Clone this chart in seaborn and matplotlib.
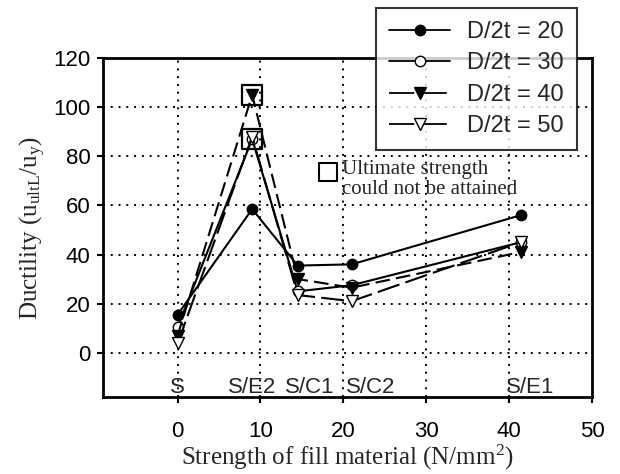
import matplotlib
matplotlib.use("Agg")
import matplotlib.pyplot as plt
import seaborn as sns
import pandas as pd
from matplotlib.lines import Line2D

# data
strength = [0, 9, 14.5, 21, 41.4]
categories = ["S", "S/E2", "S/C1", "S/C2", "S/E1"]
cat_x = [0, 9, 16, 23.3, 42.5]
d20 = [15.5, 58.5, 35.5, 36, 56]
d30 = [10.5, 87, 25, 27.5, 45]
d40 = [7, 105, 30, 26.5, 41]
d50 = [3.8, 88, 23.5, 21, 45]
series_names = ["D/2t = 20", "D/2t = 30", "D/2t = 40", "D/2t = 50"]
series_vals = [d20, d30, d40, d50]
unattained_x = [9, 9]
unattained_y = [105, 87]

rows = []
for name, vals in zip(series_names, series_vals):
    for x, y in zip(strength, vals):
        rows.append({"x": x, "y": y, "series": name})
df = pd.DataFrame(rows)

sns.set_style("white")
plt.rcParams["font.family"] = ["Liberation Sans", "DejaVu Sans"]
plt.rcParams["mathtext.fontset"] = "custom"
plt.rcParams["mathtext.rm"] = "Liberation Serif"
plt.rcParams["mathtext.it"] = "Liberation Serif:italic"

fig = plt.figure(figsize=(6.2, 4.74), dpi=100)
ax = fig.add_axes([103/620, 1-397/474, (592-103)/620, (397-58)/474])

styles = {
    "D/2t = 20": dict(marker="o", mfc="black", dashes=None, ms=7.5),
    "D/2t = 30": dict(marker="o", mfc="white", dashes=None, ms=7.5),
    "D/2t = 40": dict(marker="v", mfc="black", dashes=(7, 3), ms=8.5),
    "D/2t = 50": dict(marker="v", mfc="white", dashes=(11, 3), ms=8.5),
}

handles = []
for name in series_names:
    st = styles[name]
    sub = df[df["series"] == name]
    sns.lineplot(data=sub, x="x", y="y", ax=ax, color="black", lw=1.5,
                 marker=st["marker"], markersize=st["ms"], markerfacecolor=st["mfc"],
                 markeredgecolor="black", markeredgewidth=1.0, legend=False,
                 estimator=None, sort=False, zorder=3)
    line = ax.lines[-1]
    if st["dashes"] is not None:
        line.set_dashes(st["dashes"])
    h = Line2D([], [], color="black", lw=1.3, marker=st["marker"], markersize=st["ms"],
               markerfacecolor=st["mfc"], markeredgecolor="black")
    if st["dashes"] is not None:
        h.set_dashes((14, 4))
    handles.append(h)

# unattained squares
sns.scatterplot(x=unattained_x, y=unattained_y, ax=ax, marker="s", s=220,
                facecolor="none", edgecolor="black", linewidth=1.6, zorder=4, legend=False)

ax.set_xlim(-9, 50)
ax.set_ylim(-18, 120)
ax.set_xticks([0, 10, 20, 30, 40, 50])
ax.set_yticks([0, 20, 40, 60, 80, 100, 120])
ax.tick_params(axis="both", labelsize=16, direction="out", length=4, width=1.5,
               colors="black")
ax.tick_params(axis="x", pad=13, bottom=True)
ax.tick_params(axis="y", pad=5, left=True)

for x in [0, 10, 20, 30, 40]:
    ax.axvline(x, color="black", ls=(0, (1, 3)), lw=1.4, zorder=1)
for y in [0, 20, 40, 60, 80, 100]:
    ax.axhline(y, color="black", ls=(0, (1, 3)), lw=1.4, zorder=1)

for s in ax.spines.values():
    s.set_linewidth(2)
    s.set_color("black")

for lab, cx in zip(categories, cat_x):
    ax.text(cx, -14, lab, ha="center", va="center", fontsize=16,
            family=["Liberation Sans"], zorder=2)

ax.set_xlabel("Strength of fill material (N/mm$^2$)", family=["Liberation Serif"],
              fontsize=18, labelpad=1)
ax.set_ylabel("Ductility (u$_{\\mathrm{ultL}}$/u$_{\\mathrm{y}}$)", family=["Liberation Serif"],
              fontsize=18, labelpad=4)

ax.scatter([18.1], [73.5], marker="s", s=170, facecolor="white", edgecolor="black",
           linewidth=1.5, zorder=5)
ax.text(19.8, 78.5, "Ultimate strength\ncould not be attained", family=["Liberation Serif"],
        fontsize=15, va="top", ha="left", linespacing=1.1, zorder=5)

leg = fig.legend(handles, series_names, loc="upper left",
                 bbox_to_anchor=(376/620, 1-8/474), bbox_transform=fig.transFigure,
                 fontsize=17, frameon=True, fancybox=False, edgecolor="black",
                 handlelength=2.6, borderpad=0.55, labelspacing=0.4, handletextpad=0.7,
                 borderaxespad=0)
leg.get_frame().set_linewidth(1.5)
leg.set_zorder(10)

fig.savefig("out.png", dpi=100)
